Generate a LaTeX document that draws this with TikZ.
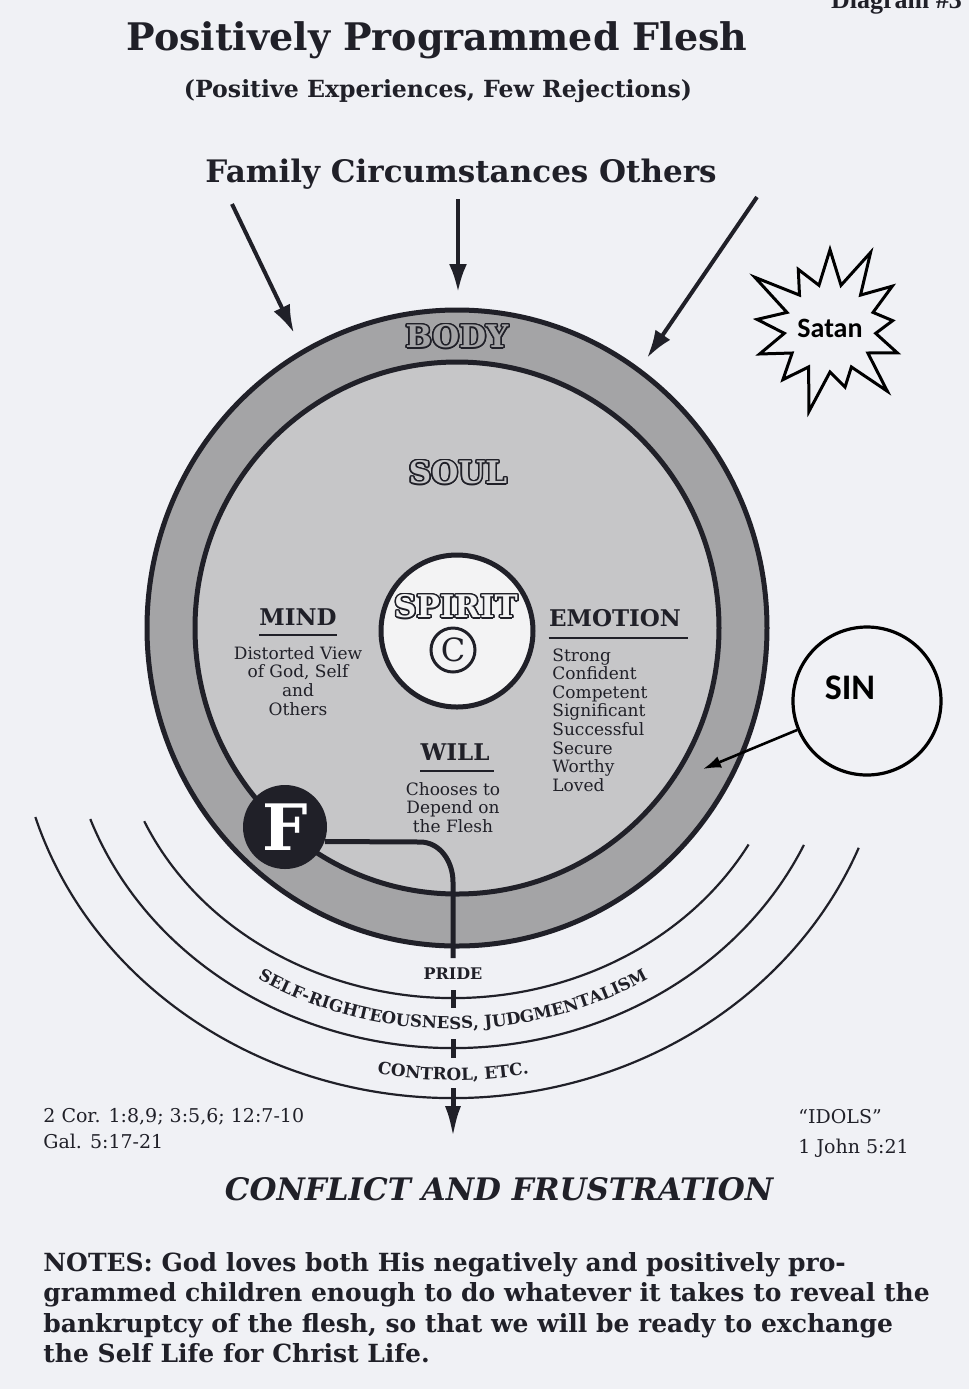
\documentclass[tikz,border=0pt]{standalone}
\usepackage{fontspec}
\setmainfont{DejaVu Serif}
\newfontfamily\calfont{Carlito}
\newfontfamily\timesfont{Liberation Serif}
\usepackage{contour}
\contourlength{0.75pt}
\contournumber{20}
\usetikzlibrary{arrows.meta, shapes.symbols, decorations.text}

\definecolor{paper}{RGB}{240,241,245}
\definecolor{ink}{RGB}{32,32,40}
\definecolor{bodygray}{RGB}{164,164,166}
\definecolor{soulgray}{RGB}{198,198,200}
\definecolor{spiritwhite}{RGB}{243,243,244}

\newcommand{\outlined}[2]{\contour{ink}{\textcolor{#1}{#2}}}

\tikzstyle{heading}=[text=ink, inner sep=0pt, font=\bfseries\fontsize{11.5}{13}\selectfont]
\tikzstyle{smalltxt}=[text=ink, inner sep=0pt, font=\fontsize{8.5}{9.3}\selectfont]
\tikzstyle{hollow}=[inner sep=0pt, font=\bfseries\fontsize{15.5}{17}\selectfont]
\tikzstyle{bandtxt}=[text=ink, inner sep=0pt, font=\bfseries\fontsize{8}{9}\selectfont]
\tikzstyle{reftxt}=[text=ink, inner sep=0pt, font=\fontsize{9.5}{11}\selectfont, anchor=base west]
\tikzstyle{ringline}=[draw=ink, line width=2.5pt]
\tikzstyle{arcline}=[draw=ink, line width=1.1pt]
\tikzstyle{push}=[->, color=ink, line width=2pt]

\begin{document}
\begin{tikzpicture}[x=0.5pt, y=0.5pt, >={Latex[length=14pt,width=9pt]}]
      \useasboundingbox[fill=paper] (0,0) rectangle (969,-1389);

      \node [anchor=base west, text=ink, font=\timesfont\bfseries\fontsize{13}{14}\selectfont] (diag) at (824,-8) {Diagram \#3};
      \node [anchor=base, text=ink, font=\bfseries\fontsize{19}{21}\selectfont] (title) at (437,-50) {Positively Programmed Flesh};
      \node [anchor=base, text=ink, font=\bfseries\fontsize{11.8}{13}\selectfont] (subtitle) at (438,-97) {(Positive Experiences, Few Rejections)};
      \node [anchor=base, text=ink, font=\bfseries\fontsize{15.5}{17}\selectfont] (family) at (461,-182) {Family Circumstances Others};

      \coordinate (ctr) at (457,-628);
      \coordinate (low) at (453,-700);

      \fill[bodygray] (ctr) ellipse [x radius=310, y radius=318];
      \path[ringline, fill=soulgray] (ctr) ellipse [x radius=262, y radius=266];
      \path[ringline] (ctr) ellipse [x radius=310, y radius=318];
      \path[ringline, fill=spiritwhite] (457,-631) circle [radius=76];

      \draw[arcline] (low) ++(204:338 and 298) arc [start angle=204, end angle=331, x radius=338, y radius=298];
      \draw[arcline] (low) ++(200:386 and 348) arc [start angle=200, end angle=335.4, x radius=386, y radius=348];
      \draw[arcline] (low) ++(197.1:437 and 398) arc [start angle=197.1, end angle=338.2, x radius=437, y radius=398];

      \node [hollow] (body) at (457,-337) {\outlined{bodygray}{BODY}};
      \node [hollow] (soul) at (458,-473) {\outlined{soulgray}{SOUL}};
      \node [hollow] (spirit) at (456,-607) {\outlined{spiritwhite}{SPIRIT}};
      \node [circle, draw=ink, line width=1.5pt, inner sep=0pt, minimum size=22pt, text=ink, font=\fontsize{16}{16}\selectfont] (christ) at (453,-650) {C};

      \node [heading] (mind) at (298,-617) {MIND};
      \node [smalltxt, align=center, anchor=north] (mindtxt) at (298,-646) {Distorted View\\of God, Self\\and\\Others};
      \node [heading] (emotion) at (615,-618) {EMOTION};
      \node [smalltxt, align=left, anchor=north west] (emotxt) at (552,-648) {Strong\\Confident\\Competent\\Significant\\Successful\\Secure\\Worthy\\Loved};
      \node [heading] (will) at (455,-752) {WILL};
      \node [smalltxt, align=center, anchor=north] (willtxt) at (453,-782) {Chooses to\\Depend on\\the Flesh};

      \draw[ink, line width=1pt] ([yshift=-4.5pt]mind.south west) -- ([yshift=-4.5pt]mind.south east);
      \draw[ink, line width=1pt] ([yshift=-5.5pt]emotion.south west) -- ([xshift=3.5pt,yshift=-5.5pt]emotion.south east);
      \draw[ink, line width=1pt] ([yshift=-5pt]will.south west) -- ([xshift=2pt,yshift=-5pt]will.south east);

      \coordinate (bend) at (420,-842);
      \coordinate (drop) at (453,-882);
      \coordinate (cut0) at (453,-958);
      \node [circle, fill=ink, inner sep=0pt, minimum size=42pt, text=white, font=\bfseries\fontsize{32}{32}\selectfont] (flesh) at (285,-827) {F};
      \draw[ink, line width=2.5pt] (flesh.-20) -- (bend) to[out=0, in=90] (drop) -- (cut0);

      \node [bandtxt] (pride) at (453,-974) {PRIDE};
      \path[decorate, decoration={text along path, text align=center,
            text={|\bfseries\fontsize{8.3}{10}\selectfont\color{ink}|SELF-RIGHTEOUSNESS{,} JUDGMENTALISM}}]
            (90.6,-757.1) arc [start angle=190, end angle=350, x radius=368, y radius=329];
      \path[decorate, decoration={text along path, text align=center,
            text={|\bfseries\fontsize{8.4}{10}\selectfont\color{ink}|CONTROL{,} ETC.}}]
            (59.3,-830.0) arc [start angle=200, end angle=340, x radius=419, y radius=380];

      \coordinate (cut1a) at (453,-990);
      \coordinate (cut1b) at (453,-1008);
      \coordinate (cut2a) at (453,-1039);
      \coordinate (cut2b) at (453,-1058);
      \coordinate (cut3a) at (453,-1088);
      \coordinate (tip) at (453,-1138);
      \draw[ink, line width=2.5pt] (cut1a) -- (cut1b) (cut2a) -- (cut2b);
      \draw[ink, line width=2.5pt, -{Latex[length=16pt,width=8pt]}] (cut3a) -- (tip);

      \coordinate (famL) at (232,-204);
      \coordinate (famM) at (458,-199);
      \coordinate (famR) at (757,-197);
      \coordinate (hitL) at (294,-333);
      \coordinate (hitM) at (458,-292);
      \coordinate (hitR) at (647,-358);
      \path[push] (famL) edge (hitL);
      \path[push] (famM) edge (hitM);
      \path[push] (famR) edge (hitR);

      \node [starburst, draw=black, line width=1.5pt, starburst points=13, starburst point height=24pt,
             minimum width=86pt, minimum height=92pt, inner sep=0pt,
             font=\calfont\bfseries\fontsize{14}{16}\selectfont] (satan) at (830,-328) {Satan};

      \node [circle, draw=black, line width=1.6pt, minimum size=74pt, inner sep=0pt,
             label={[font=\calfont\bfseries\fontsize{18}{20}\selectfont, xshift=-8.5pt, yshift=6.5pt]center:SIN}] (sin) at (867,-701) {};
      \coordinate (sinhit) at (703,-769);
      \path[->, color=black, line width=1.3pt, >={Latex[length=9pt,width=6pt]}] (sin) edge (sinhit);

      \node [reftxt] (cor) at (43,-1122) {2 Cor. 1:8,9; 3:5,6; 12:7-10};
      \node [reftxt] (gal) at (43,-1148) {Gal. 5:17-21};
      \node [reftxt] (idols) at (798,-1123) {“IDOLS”};
      \node [reftxt] (john) at (798,-1153) {1 John 5:21};
      \node [anchor=base, text=ink, font=\bfseries\itshape\fontsize{15.5}{17}\selectfont] (conflict) at (499,-1200) {CONFLICT AND FRUSTRATION};
      \node [anchor=north west, align=left, text=ink, inner sep=0pt, font=\bfseries\fontsize{12.5}{15.25}\selectfont] (notes) at (43,-1252)
            {NOTES: God loves both His negatively and positively pro-\\grammed children enough to do whatever it takes to reveal the\\bankruptcy of the flesh, so that we will be ready to exchange\\the Self Life for Christ Life.};
\end{tikzpicture}
\end{document}
